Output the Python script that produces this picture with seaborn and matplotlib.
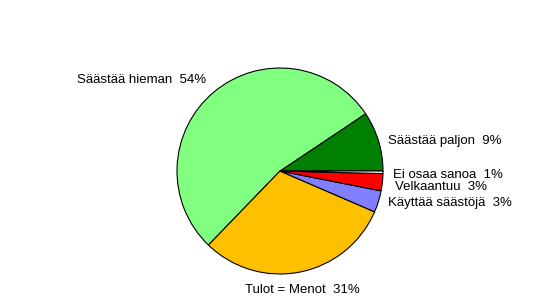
import matplotlib
matplotlib.use("Agg")
import matplotlib.pyplot as plt
import seaborn as sns

# Data
categories = ["Säästää paljon", "Säästää hieman", "Tulot = Menot",
              "Käyttää säästöjä", "Velkaantuu", "Ei osaa sanoa"]
shares = [9.4, 53.5, 30.8, 3.4, 2.7, 0.4]
pct_labels = ["9%", "54%", "31%", "3%", "3%", "1%"]
colors = ["#008000", "#80FF80", "#FFC000", "#8080FF", "#FF0000", "#FFFFFF"]

sns.set_theme(style="white")
plt.rcParams['font.family'] = ['Liberation Sans', 'DejaVu Sans']

W, H = 553, 296
fig = plt.figure(figsize=(W / 100, H / 100), dpi=100)
ax = fig.add_axes([0, 0, 1, 1])
ax.set_xlim(0, W)
ax.set_ylim(0, H)
ax.set_aspect('equal')
ax.axis('off')

cx, cy, r = 280, H - 171, 103
ax.pie(shares, colors=colors, startangle=0, counterclock=True,
       center=(cx, cy), radius=r,
       wedgeprops=dict(edgecolor='black', linewidth=0.8))

# label positions (left x, baseline y in pixel coords from top)
label_pos = [(388, 144), (77, 83), (245, 293), (388, 206), (395, 190), (393, 178)]
for cat, pct, (lx, ly) in zip(categories, pct_labels, label_pos):
    ax.text(lx, H - ly, f"{cat}  {pct}", ha='left', va='baseline',
            fontsize=9.5, color='black')

ax.set_xlim(0, W)
ax.set_ylim(0, H)
fig.savefig("out.png", dpi=100)
